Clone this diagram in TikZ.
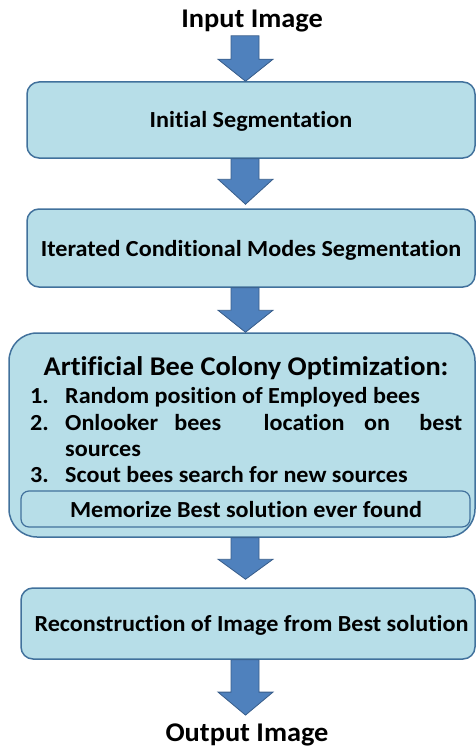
\documentclass[tikz,border=0pt]{standalone}
\usepackage{fontspec}
\setmainfont{Carlito}[FakeStretch=1.05, Ligatures=NoCommon]
\usetikzlibrary{calc}
\definecolor{boxfill}{RGB}{183,222,232}
\definecolor{boxline}{RGB}{65,113,156}
\definecolor{arrfill}{RGB}{79,129,189}
\definecolor{arrline}{RGB}{56,93,138}
\newcommand\blockarrow[3]{%
  \path[barrow] let \p1=(#1), \p2=(#2) in
    (231pt,\y1) -- (259pt,\y1) -- (259pt,\y2+#3) -- (273pt,\y2+#3) -- (245.5pt,\y2)
    -- (218pt,\y2+#3) -- (231pt,\y2+#3) -- cycle;}
\newcommand\gapw[1]{\hskip 0pt plus #1fill\relax}
\begin{document}
\begin{tikzpicture}[x=1pt,y=1pt,
  box/.style={draw=boxline, fill=boxfill, line width=1.5pt, rounded corners=12pt, inner sep=0},
  lbl/.style={font=\bfseries\fontsize{23}{27}\selectfont, inner sep=0, anchor=base},
  big/.style={font=\bfseries\fontsize{27}{31}\selectfont},
  item/.style={lbl, anchor=base west},
  barrow/.style={fill=arrfill, draw=arrline, line width=0.8pt}]
\useasboundingbox (0,0) rectangle (476,-749);

\node[box, minimum width=448, minimum height=76] (b1) at (251,-120) {};
\node[box, minimum width=448, minimum height=78] (b2) at (251,-248) {};
\node[box, minimum width=466, minimum height=204, rounded corners=28pt] (b3) at (242,-435) {};
\node[box, minimum width=449, minimum height=36, rounded corners=8pt, line width=1.2pt] (mem) at (245.5,-509) {};
\node[box, minimum width=454, minimum height=71] (b5) at (248,-623.5) {};

\node[lbl, big] (in) at (252,-28) {Input Image};
\node[lbl] (t1) at (251,-128) {Initial Segmentation};
\node[lbl] (t2) at (251,-256) {Iterated Conditional Modes Segmentation};
\node[lbl, big] (title) at (246,-375) {Artificial Bee Colony Optimization:};
\node[item] (n1) at (30,-403) {1.};
\node[item] (i1) at (65,-403) {Random position of Employed bees};
\node[item] (n2) at (30,-430) {2.};
\node[item] (i2) at (65,-430) {\hbox to 397pt{Onlooker\gapw{1}bees\gapw{2.6}location\gapw{1.2}on\gapw{1.8}best}};
\node[item] (i2b) at (65,-456) {sources};
\node[item] (n3) at (30,-482) {3.};
\node[item] (i3) at (65,-482) {Scout bees search for new sources};
\node[lbl] (tm) at (246,-517) {Memorize Best solution ever found};
\node[lbl] (t5) at (251.5,-631) {Reconstruction of Image from Best solution};
\node[lbl, big] (out) at (247,-741) {Output Image};

\blockarrow{$(in.south)+(0,-3)$}{b1.north}{22pt}
\blockarrow{b1.south}{$(b2.north)+(0,4)$}{25pt}
\blockarrow{b2.south}{b3.north}{22pt}
\blockarrow{b3.south}{$(b5.north)+(0,8)$}{20pt}
\blockarrow{b5.south}{$(out.north)+(0,8)$}{23pt}
\end{tikzpicture}
\end{document}
